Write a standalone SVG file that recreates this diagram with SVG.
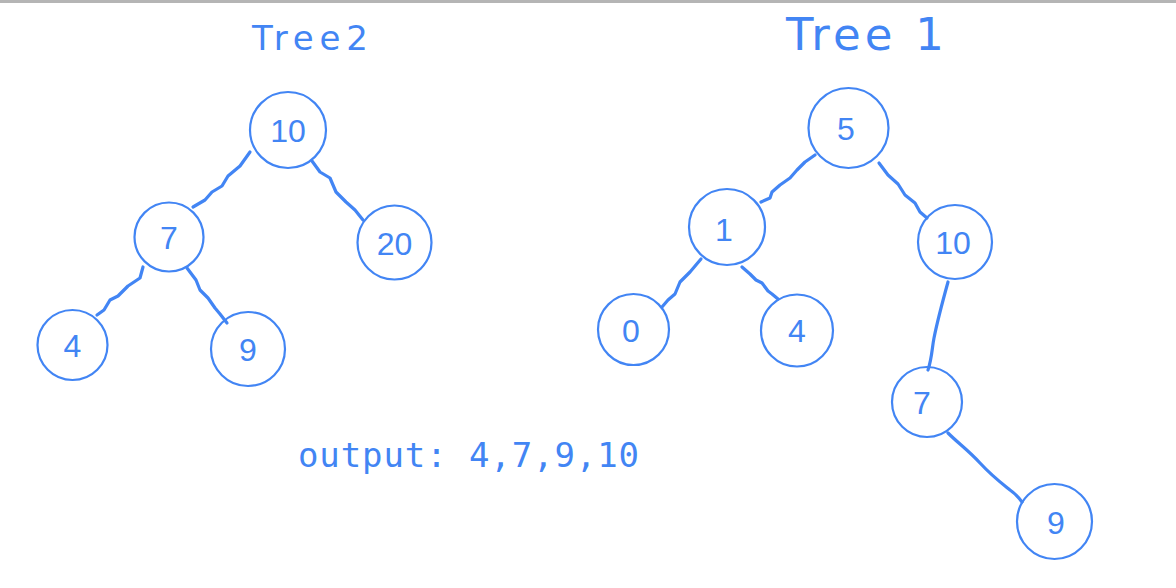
<svg xmlns="http://www.w3.org/2000/svg" width="1176" height="588" viewBox="0 0 1176 588">
<style>
.n{fill:none;stroke:#4285f4;stroke-width:2.2}
.e{fill:none;stroke:#4285f4;stroke-width:3.2;stroke-linecap:round;stroke-linejoin:round}
.l{fill:#4285f4;font-family:"Liberation Sans","DejaVu Sans",sans-serif;font-size:32px;text-anchor:middle}
.t{fill:#4285f4;font-family:"DejaVu Sans","Liberation Sans",sans-serif;}
</style>
<rect x="0" y="0" width="1176" height="588" fill="#ffffff"/>
<rect x="0" y="0" width="1176" height="3" fill="#b5b5b5"/>
<text class="t" x="252" y="50" font-size="34" textLength="116" lengthAdjust="spacing">Tree2</text>
<text class="t" x="786" y="50" font-size="45" textLength="158" lengthAdjust="spacing">Tree 1</text>
<g id="connectors">
<path class="e" d="M250,152 L240,166 L228,176 L222,186 L212,192 L205,200 L193,207"/>
<path class="e" d="M312,161 L320,172 L330,178 L336,192 L346,202 L355,210 L363,220"/>
<path class="e" d="M143,267 L140,278 L128,286 L118,296 L110,300 L104,310 L97,315"/>
<path class="e" d="M187,268 L196,280 L200,290 L208,298 L215,308 L220,314 L227,323"/>
<path class="e" d="M815,155 L805,162 L797,170 L790,178 L780,185 L772,192 L770,198 L761,202"/>
<path class="e" d="M879,163 L888,175 L898,184 L905,195 L915,203 L920,212 L927,218"/>
<path class="e" d="M701,259 L690,272 L680,282 L675,294 L668,300 L662,307"/>
<path class="e" d="M742,267 L750,274 L756,280 L762,283 L768,291 L772,294 L778,299"/>
<path class="e" d="M948,282 C943,300 938,318 934,338 C932,348 932,358 928,370"/>
<path class="e" d="M948,433 C958,443 968,450 980,463 C992,476 1000,482 1010,490 C1016,494 1019,498 1022,502"/>
</g>
<g id="t2-10"><circle class="n" cx="288" cy="130" r="38"/><text class="l" x="288" y="142">10</text></g>
<g id="t2-7"><circle class="n" cx="169" cy="237" r="34.5"/><text class="l" x="169" y="249">7</text></g>
<g id="t2-20"><circle class="n" cx="394.5" cy="242.5" r="37"/><text class="l" x="394.5" y="255">20</text></g>
<g id="t2-4"><circle class="n" cx="72.5" cy="345" r="35"/><text class="l" x="72.5" y="357">4</text></g>
<g id="t2-9"><circle class="n" cx="248" cy="349" r="37"/><text class="l" x="248" y="361">9</text></g>
<g id="t1-5"><circle class="n" cx="848.5" cy="128" r="40"/><text class="l" x="846" y="140">5</text></g>
<g id="t1-1"><circle class="n" cx="727" cy="227" r="38"/><text class="l" x="724" y="241">1</text></g>
<g id="t1-10"><circle class="n" cx="955" cy="242" r="37"/><text class="l" x="953" y="254">10</text></g>
<g id="t1-0"><circle class="n" cx="633.5" cy="329.5" r="35.5"/><text class="l" x="631" y="342">0</text></g>
<g id="t1-4"><circle class="n" cx="797" cy="330.5" r="36"/><text class="l" x="797" y="342">4</text></g>
<g id="t1-7"><circle class="n" cx="927" cy="402" r="35"/><text class="l" x="922" y="414">7</text></g>
<g id="t1-9"><circle class="n" cx="1054.5" cy="521.5" r="37.5"/><text class="l" x="1056" y="534">9</text></g>
<text x="298" y="467" fill="#4285f4" font-family="'DejaVu Sans Mono','Liberation Mono',monospace" font-size="34" textLength="341" lengthAdjust="spacing">output: 4,7,9,10</text>
</svg>
